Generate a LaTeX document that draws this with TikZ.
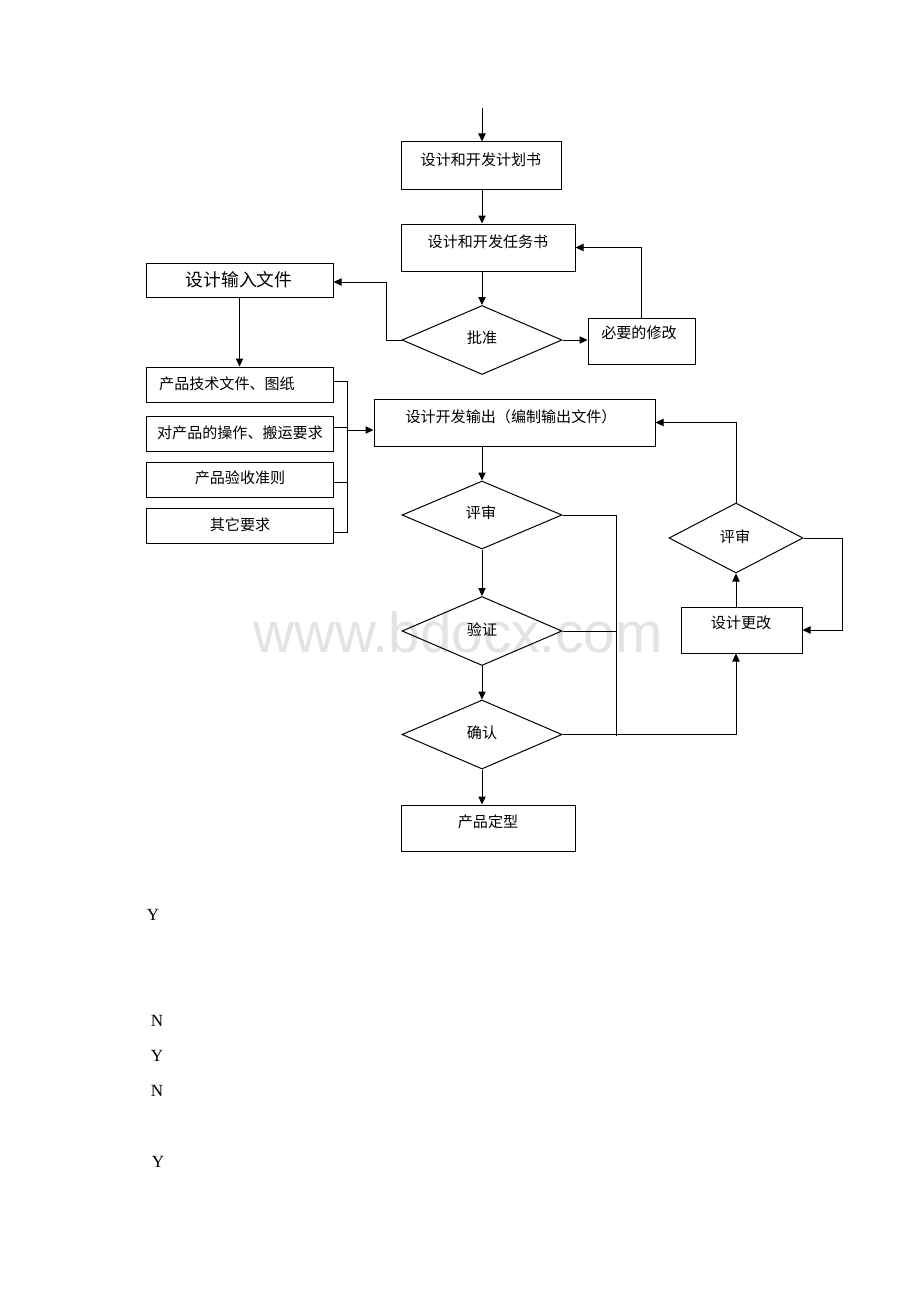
\documentclass[tikz,border=0pt]{standalone}
\usepackage{fontspec}
\setmainfont{Liberation Serif}
\newfontfamily\cjk{Noto Sans CJK SC}
\newfontfamily\wmfont{Liberation Sans}
\usetikzlibrary{arrows.meta,shapes.geometric,fit}
\begin{document}
\begin{tikzpicture}[x=0.75pt,y=-0.75pt,
  box/.style={draw, line width=0.75pt, inner sep=0pt, rectangle},
  dia/.style={draw, line width=0.75pt, diamond, inner sep=0pt, minimum width=120pt, minimum height=51.75pt},
  txt/.style={font=\cjk\fontsize{11.3}{13}\selectfont, inner sep=0pt},
  bigtxt/.style={font=\cjk\fontsize{13.3}{15}\selectfont, inner sep=0pt},
  yn/.style={font=\fontsize{12.8}{14}\selectfont, inner sep=0pt},
  line/.style={line width=0.75pt},
  arr/.style={line width=0.75pt, -{Triangle[length=6pt,width=5.5pt]}}]
\useasboundingbox (0,0) rectangle (920,1302);
% watermark
\node[font=\wmfont\fontsize{42.5}{45}\selectfont, text=black!11, anchor=base, inner sep=0pt] (wm) at (458,652) {www.bdocx.com};
% boxes
\node[box, fit={(401,142) (561,189)}] (b1) {};
\node[box, fit={(401,224) (575,271)}] (b2) {};
\node[box, fit={(146,263) (333,297)}] (inp) {};
\node[box, fit={(588,318) (695,364)}] (mod) {};
\node[box, fit={(146,367) (333,402)}] (i1) {};
\node[box, fit={(146,416) (333,451)}] (i2) {};
\node[box, fit={(146,462) (333,497)}] (i3) {};
\node[box, fit={(146,508) (333,543)}] (i4) {};
\node[box, fit={(374,399) (655,446)}] (out) {};
\node[box, fit={(681,607) (802,653)}] (chg) {};
\node[box, fit={(401,805) (575,851)}] (fin) {};
% diamonds
\node[dia] (d1) at (482,340) {};
\node[dia, minimum height=51pt] (d2) at (482,515) {};
\node[dia] (d3) at (482,631) {};
\node[dia] (d4) at (482,734.5) {};
\node[dia, minimum width=100.5pt, minimum height=52.5pt] (rd) at (736,538) {};
% texts
\node[txt] (t1) at (481,160) {设计和开发计划书};
\node[txt] (t2) at (488,242) {设计和开发任务书};
\node[bigtxt] (tinp) at (239,280) {设计输入文件};
\node[txt] (td1) at (482,338) {批准};
\node[txt] (tmod) at (639,333) {必要的修改};
\node[txt] (ti1) at (227,384) {产品技术文件、图纸};
\node[txt] (ti2) at (240,433) {对产品的操作、搬运要求};
\node[txt] (ti3) at (240,478) {产品验收准则};
\node[txt] (ti4) at (240,525) {其它要求};
\node[txt] (tout) at (511,417) {设计开发输出（编制输出文件）};
\node[txt] (td2) at (481,513) {评审};
\node[txt] (trd) at (735,537) {评审};
\node[txt] (td3) at (482,630) {验证};
\node[txt] (tchg) at (741,623) {设计更改};
\node[txt] (td4) at (482,733) {确认};
\node[txt] (tfin) at (488,822) {产品定型};
% Y/N letters
\node[yn] (y1) at (153,915) {Y};
\node[yn] (n1) at (157,1021) {N};
\node[yn] (y2) at (157,1056) {Y};
\node[yn] (n2) at (157,1091) {N};
\node[yn] (y3) at (158,1162) {Y};
% connectors
\coordinate (start) at (482,108);
\draw[arr] (start) -- (start |- b1.north);
\draw[arr] (start |- b1.south) -- (start |- b2.north);
\draw[arr] (start |- b2.south) -- (d1.north);
\draw[arr] (d1.west) -- ++(-15,0) |- ([yshift=-1.5pt]inp.east);
\draw[arr] (d1.east) -- (d1.east -| mod.west);
\draw[arr] (mod.north) |- (b2.east);
\draw[arr] (inp.south) -- (i1.north);
\coordinate (br) at (347,430);
\draw[line] ([yshift=2pt]i1.east) -| (br);
\draw[line] ([yshift=-4.9pt]i4.east) -| (br);
\draw[line] ([yshift=4.5pt]i2.east) -- ([yshift=4.5pt]i2.east -| br);
\draw[line] ([yshift=-2.6pt]i3.east) -- ([yshift=-2.6pt]i3.east -| br);
\draw[arr] (br) -- (br -| out.west);
\draw[arr] (rd.north) |- (out.east);
\draw[arr] (d2.north |- out.south) -- (d2.north);
\coordinate (vr) at (616,736);
\draw[line] (d2.east) -| (vr);
\draw[line] (d3.east) -- (d3.east -| vr);
\draw[arr] (d2.south) -- (d3.north);
\draw[arr] (d3.south) -- (d4.north);
\draw[arr] (d4.south) -- (d4.south |- fin.north);
\draw[arr] (d4.east) -| (rd.south |- chg.south);
\draw[arr] (rd.south |- chg.north) -- (rd.south);
\draw[arr] (rd.east) -- ++(39,0) |- (chg.east);
\end{tikzpicture}
\end{document}
